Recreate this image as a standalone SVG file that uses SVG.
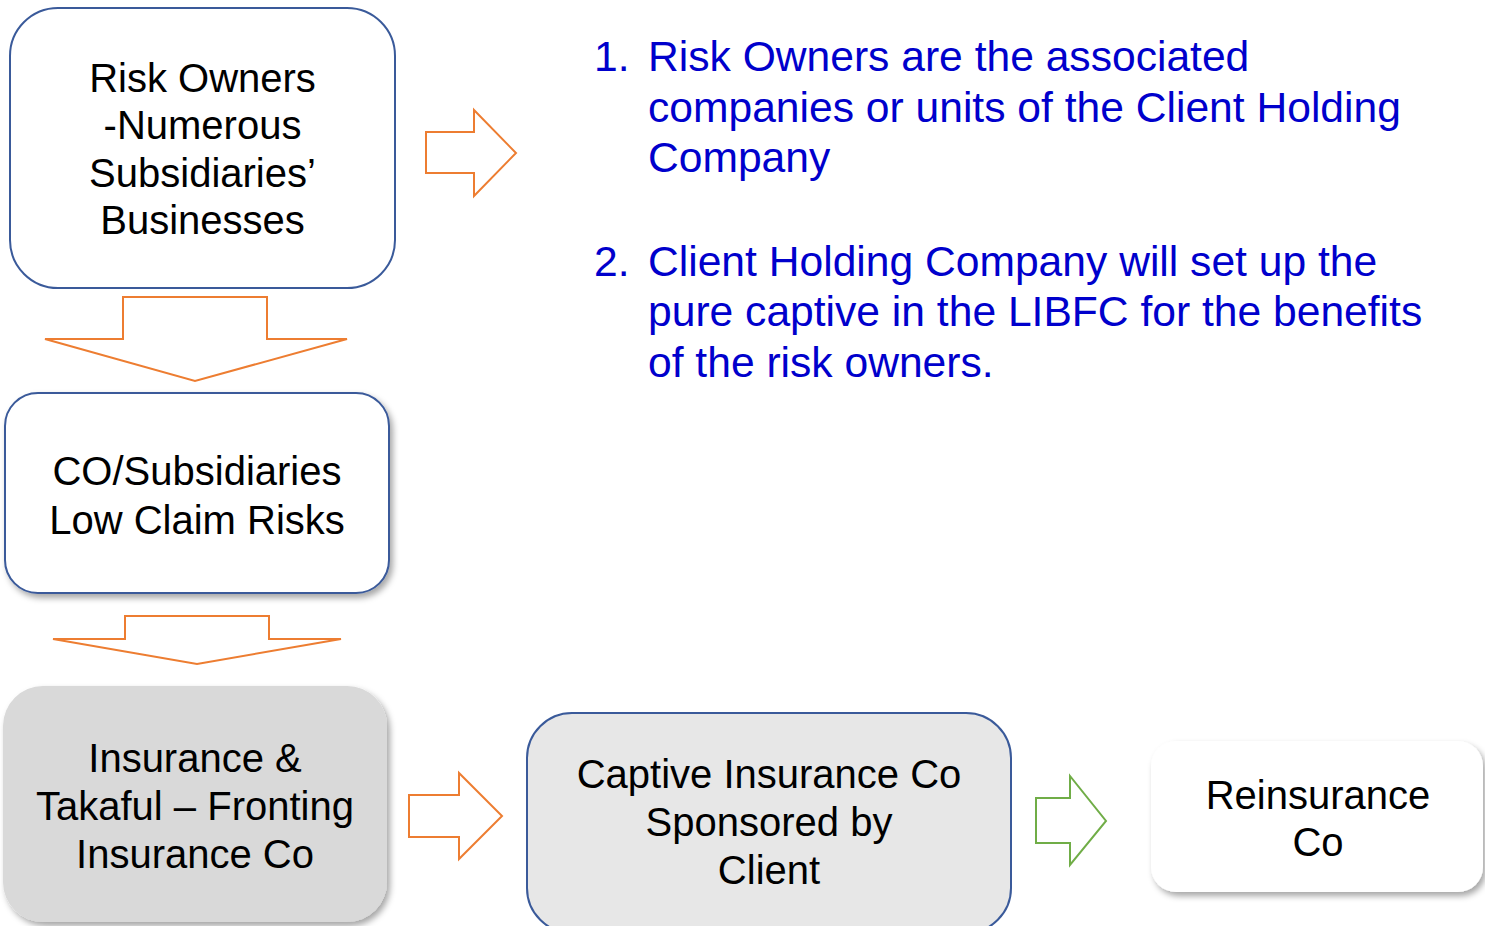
<svg xmlns="http://www.w3.org/2000/svg" width="1485" height="926" viewBox="0 0 1485 926">
<defs>
<filter id="shadow" x="-10%" y="-10%" width="125%" height="130%">
<feDropShadow dx="3" dy="4" stdDeviation="3" flood-color="#000" flood-opacity="0.35"/>
</filter>
<style>
.node-text{font-family:"Liberation Sans",Arial,sans-serif;font-size:40px;fill:#000;text-anchor:middle}
.note{font-family:"Liberation Sans",Arial,sans-serif;font-size:42.6px;fill:#0000cc}
.blue-border{stroke:#3a5a9a;stroke-width:2}
.orange{fill:#fff;stroke:#ed7d31;stroke-width:2;stroke-linejoin:miter}
.green{fill:#fff;stroke:#70ad47;stroke-width:2;stroke-linejoin:miter}
</style>
</defs>
<rect width="1485" height="926" fill="#fff"/>

<g id="connectors">
<polygon class="orange" points="426,132 474,132 474,110 516,153 474,196 474,173 426,173"/>
<polygon class="orange" points="123,297 267,297 267,339 347,339 195,381 45,339 123,339"/>
<polygon class="orange" points="125,616 269,616 269,639 341,639 197,664 53,639 125,639"/>
<polygon class="orange" points="409,795 459,795 459,773 502,816 459,859 459,837 409,837"/>
<polygon class="green" points="1036,798 1070,798 1070,776 1106,821 1070,865 1070,843 1036,843"/>
</g>

<g id="node-risk-owners">
<rect x="10" y="8" width="385" height="280" rx="48" fill="#fff" class="blue-border"/>
<text class="node-text" x="202.5" y="91.5">Risk Owners</text>
<text class="node-text" x="202.5" y="139">-Numerous</text>
<text class="node-text" x="202.5" y="186.5">Subsidiaries’</text>
<text class="node-text" x="202.5" y="234">Businesses</text>
</g>

<g id="node-co-subsidiaries">
<rect x="5" y="393" width="384" height="200" rx="33" fill="#fff" class="blue-border" filter="url(#shadow)"/>
<text class="node-text" x="197" y="484.5">CO/Subsidiaries</text>
<text class="node-text" x="197" y="533.5">Low Claim Risks</text>
</g>

<g id="node-fronting">
<rect x="3" y="686" width="384" height="236" rx="40" fill="#d9d9d9" filter="url(#shadow)"/>
<text class="node-text" x="195" y="772">Insurance &amp;</text>
<text class="node-text" x="195" y="820">Takaful – Fronting</text>
<text class="node-text" x="195" y="868">Insurance Co</text>
</g>

<g id="node-captive">
<rect x="527" y="713" width="484" height="220" rx="45" fill="#e7e7e7" class="blue-border"/>
<text class="node-text" x="769" y="788">Captive Insurance Co</text>
<text class="node-text" x="769" y="836">Sponsored by</text>
<text class="node-text" x="769" y="884">Client</text>
</g>

<g id="node-reinsurance">
<rect x="1151" y="741" width="332" height="151" rx="25" fill="#fff" filter="url(#shadow)"/>
<text class="node-text" x="1318" y="809">Reinsurance</text>
<text class="node-text" x="1318" y="856">Co</text>
</g>

<g id="notes">
<text class="note" x="594" y="71">1.</text>
<text class="note" x="648" y="71">Risk Owners are the associated</text>
<text class="note" x="648" y="121.5">companies or units of the Client Holding</text>
<text class="note" x="648" y="172">Company</text>
<text class="note" x="594" y="275.5">2.</text>
<text class="note" x="648" y="275.5">Client Holding Company will set up the</text>
<text class="note" x="648" y="326">pure captive in the LIBFC for the benefits</text>
<text class="note" x="648" y="376.5">of the risk owners.</text>
</g>
</svg>
